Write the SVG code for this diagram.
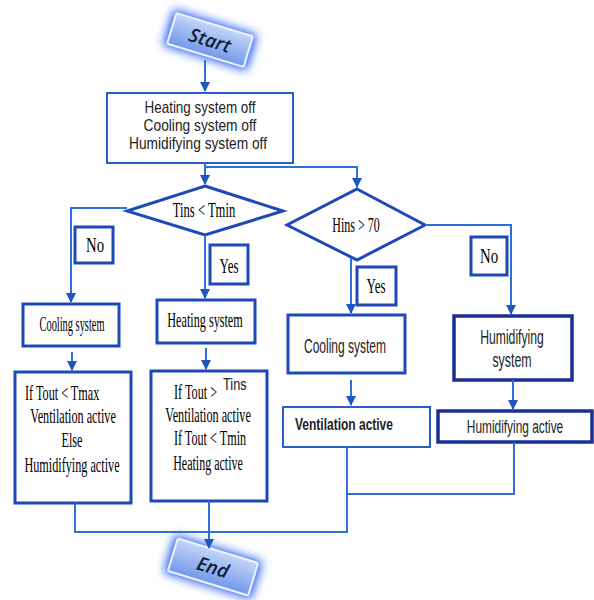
<svg xmlns="http://www.w3.org/2000/svg" width="594" height="600" viewBox="0 0 594 600">
<style>
.box{fill:#fff;stroke:#1d4ab8;stroke-width:3}
.dk{fill:#fff;stroke:#1a2f95;stroke-width:3.5}
.thin{fill:#fff;stroke:#2a5fc8;stroke-width:2}
.dia{fill:#fff;stroke:#1d4ab8;stroke-width:3}
.ln{fill:none;stroke:#2f6fd8;stroke-width:2}
.ser{font-family:"Liberation Serif","Times New Roman",serif;fill:#000;font-size:20px}
.san{font-family:"Liberation Sans",Arial,sans-serif;fill:#222;font-size:16px}
.big{font-size:20px}
.mid{font-size:18px}
.btn{font-family:"Open Sans","DejaVu Sans",sans-serif;font-style:italic;font-weight:600;fill:#0d1a3a;font-size:19px}
.m{text-anchor:middle}
</style>
<defs>
<marker id="ar" viewBox="0 0 10 10" refX="9" refY="5" markerWidth="5" markerHeight="5" orient="auto"><path d="M0,0L10,5L0,10z" fill="#1f55c0"/></marker>
<linearGradient id="bg" x1="0" y1="0" x2="0" y2="1"><stop offset="0" stop-color="#c4d6f8"/><stop offset="1" stop-color="#7298ea"/></linearGradient>
<filter id="glow" x="-40%" y="-60%" width="180%" height="220%"><feGaussianBlur stdDeviation="5"/></filter>
</defs>
<g id="start" transform="translate(210,40) rotate(17)">
<rect x="-44" y="-19" width="88" height="38" rx="3" fill="#2c63f0" filter="url(#glow)"/>
<rect x="-40" y="-16" width="80" height="32" rx="2" fill="url(#bg)" stroke="#eef4ff" stroke-width="2"/>
<text class="btn m" x="0" y="7">Start</text>
</g>
<g id="init">
<rect class="thin" x="107" y="93" width="186" height="70"/>
<text class="san m" transform="translate(200,113) scale(0.84,1)">Heating system off</text>
<text class="san m" transform="translate(200,131) scale(0.86,1)">Cooling system off</text>
<text class="san m" transform="translate(198,149) scale(0.86,1)">Humidifying system off</text>
</g>
<g id="d1">
<polygon class="dia" points="205,186 283,211 205,235 127,211"/>
<text class="ser m" transform="translate(204,217) scale(0.63,1)">Tins &lt; Tmin</text>
</g>
<g id="d2">
<polygon class="dia" points="357,189 425,225 357,260 287,225"/>
<text class="ser m" transform="translate(356,232) scale(0.6,1)">Hins &gt; 70</text>
</g>
<g id="no1"><rect class="box" x="75" y="227" width="38" height="36"/><text class="ser m" transform="translate(95,252) scale(0.74,1)">No</text></g>
<g id="yes1"><rect class="box" x="210" y="245" width="38" height="39"/><text class="ser m" transform="translate(229,273) scale(0.65,1)">Yes</text></g>
<g id="yes2"><rect class="box" x="357" y="267" width="39" height="38"/><text class="ser m" transform="translate(376,293) scale(0.65,1)">Yes</text></g>
<g id="no2"><rect class="box" x="471" y="237" width="36" height="38"/><text class="ser m" transform="translate(489,263) scale(0.74,1)">No</text></g>
<g id="cool1"><rect class="box" x="23" y="304" width="96" height="42"/><text class="ser m" transform="translate(72,331) scale(0.52,1)">Cooling system</text></g>
<g id="heat1"><rect class="box" x="157" y="300" width="98" height="43"/><text class="ser m" transform="translate(205,327) scale(0.61,1)">Heating system</text></g>
<g id="cool2"><rect class="box" x="288" y="315" width="117" height="58"/><text class="san big m" transform="translate(345,353) scale(0.6,1)">Cooling system</text></g>
<g id="hum"><rect class="dk" x="454" y="316" width="118" height="64"/><text class="san big m" transform="translate(512,344) scale(0.61,1)">Humidifying</text><text class="san big m" transform="translate(512,367) scale(0.62,1)">system</text></g>
<g id="act1"><rect class="box" x="15" y="372" width="116" height="131"/>
<text class="ser" transform="translate(25,400) scale(0.61,1)">If Tout &lt; Tmax</text>
<text class="ser m" transform="translate(73,423) scale(0.61,1)">Ventilation active</text>
<text class="ser m" transform="translate(72,447) scale(0.61,1)">Else</text>
<text class="ser m" transform="translate(72,472) scale(0.61,1)">Humidifying active</text>
</g>
<g id="act2"><rect class="box" x="151" y="371" width="116" height="130"/>
<text class="ser" transform="translate(174,399) scale(0.61,1)">If Tout &gt;</text>
<text class="san" transform="translate(223,390) scale(0.8,1)">Tins</text>
<text class="ser m" transform="translate(208,422) scale(0.61,1)">Ventilation active</text>
<text class="ser m" transform="translate(210,445) scale(0.61,1)">If Tout &lt; Tmin</text>
<text class="ser m" transform="translate(208,470) scale(0.6,1)">Heating active</text>
</g>
<g id="vent"><rect class="thin" x="283" y="407" width="147" height="40"/><text class="san m" font-weight="bold" transform="translate(344,430) scale(0.75,1)">Ventilation active</text></g>
<g id="humact"><rect class="dk" x="438" y="411" width="154" height="31"/><text class="san mid m" transform="translate(515,433) scale(0.66,1)">Humidifying active</text></g>
<g id="end" transform="translate(213,567) rotate(17)">
<rect x="-46" y="-20" width="92" height="40" rx="3" fill="#2c63f0" filter="url(#glow)"/>
<rect x="-42" y="-17" width="84" height="34" rx="2" fill="url(#bg)" stroke="#eef4ff" stroke-width="2"/>
<text class="btn m" x="0" y="7">End</text>
</g>
<g id="connectors">
<path class="ln" d="M205,60V91" marker-end="url(#ar)"/>
<path class="ln" d="M205,163V167H357V187" marker-end="url(#ar)"/>
<path class="ln" d="M205,167V184" marker-end="url(#ar)"/>
<path class="ln" d="M127,208H71V302" marker-end="url(#ar)"/>
<path class="ln" d="M205,235V298" marker-end="url(#ar)"/>
<path class="ln" d="M425,225H511V314" marker-end="url(#ar)"/>
<path class="ln" d="M351,258V313" marker-end="url(#ar)"/>
<path class="ln" d="M72,352V370" marker-end="url(#ar)"/>
<path class="ln" d="M206,348V369" marker-end="url(#ar)"/>
<path class="ln" d="M351,380V405" marker-end="url(#ar)"/>
<path class="ln" d="M513,380V409" marker-end="url(#ar)"/>
<path class="ln" d="M75,503V532H347V447"/>
<path class="ln" d="M514,442V494H347"/>
<path class="ln" d="M209,501V548" marker-end="url(#ar)"/>
</g>
</svg>
